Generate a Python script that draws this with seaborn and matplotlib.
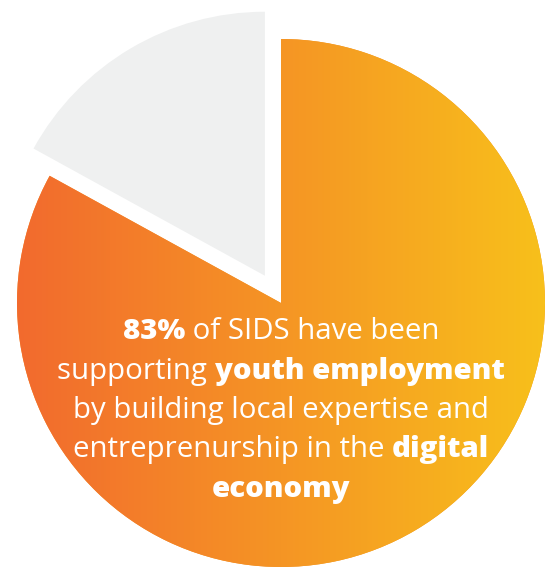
import matplotlib
matplotlib.use("Agg")
import matplotlib.pyplot as plt
import numpy as np
import seaborn as sns

# Survey share of SIDS supporting youth employment in the digital economy
categories = ["Supporting youth employment", "Other"]
shares = [83, 17]
slice_colors = ["#F49526", "#EFF0F0"]
explode = [0.0, 0.12]

gradient_left = "#F26A2E"
gradient_right = "#F8C01B"

caption_lines = [
    [("83%", "bold"), (" of SIDS have been", "regular")],
    [("supporting ", "regular"), ("youth employment", "bold")],
    [("by building local expertise and", "regular")],
    [("entreprenurship in the ", "regular"), ("digital", "bold")],
    [("economy", "bold")],
]

sns.set_theme(style="white")
plt.rcParams["font.family"] = ["Open Sans", "DejaVu Sans"]

W, H = 545, 568
fig = plt.figure(figsize=(W / 100, H / 100), dpi=100)
ax = fig.add_axes([0, 0, 1, 1])

cx_px, cy_px, r_px = 281, 303, 264

wedges, _ = ax.pie(
    shares,
    colors=slice_colors,
    startangle=90,
    counterclock=False,
    explode=explode,
    radius=1.0,
    wedgeprops=dict(linewidth=0),
)
ax.set_xlim(-cx_px / r_px, (W - cx_px) / r_px)
ax.set_ylim(-(H - cy_px) / r_px, cy_px / r_px)
ax.set_aspect("equal")
ax.axis("off")

# Horizontal orange-to-yellow fill clipped to the main wedge
cmap = sns.blend_palette([gradient_left, gradient_right], as_cmap=True)
grad = np.linspace(0, 1, 512).reshape(1, -1)
img = ax.imshow(grad, cmap=cmap, extent=(-1, 1, -1, 1), aspect="auto",
                interpolation="bilinear", zorder=wedges[0].get_zorder() + 0.1)
img.set_clip_path(wedges[0])

# Caption with mixed weights, each line centred on the pie axis
fig.canvas.draw()
renderer = fig.canvas.get_renderer()
fontsize = 21.2
weights = {"bold": "heavy", "regular": "normal"}
baseline0, spacing = 339, 39.5
for i, segments in enumerate(caption_lines):
    y_px = baseline0 + spacing * i
    texts = []
    widths = []
    for s, w in segments:
        t = fig.text(0, 0, s, fontsize=fontsize, fontweight=weights[w],
                     color="white", va="baseline", ha="left")
        texts.append(t)
        widths.append(t.get_window_extent(renderer).width)
    total = sum(widths)
    x = cx_px - total / 2
    for t, wd in zip(texts, widths):
        t.set_position((x / W, 1 - y_px / H))
        x += wd

fig.savefig("out.png", dpi=100)
